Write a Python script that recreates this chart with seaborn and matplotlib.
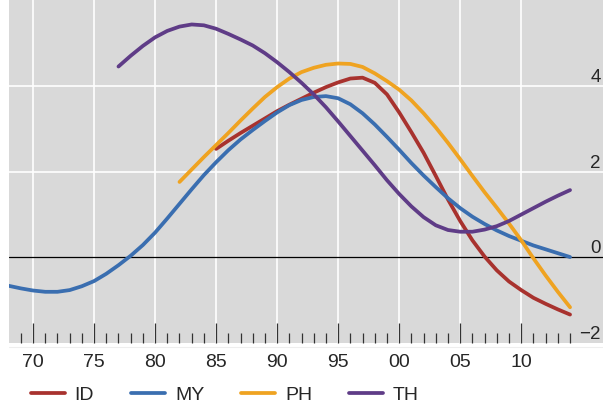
import numpy as np
import pandas as pd
import matplotlib
matplotlib.use("Agg")
import matplotlib.pyplot as plt
import seaborn as sns

# values (per cent), one per year
id_years = list(range(1985, 2015))
id_vals = [2.53, 2.72, 2.90, 3.07, 3.24, 3.41, 3.56, 3.70, 3.84, 3.97,
           4.08, 4.17, 4.19, 4.07, 3.80, 3.38, 2.92, 2.44, 1.90, 1.35,
           0.85, 0.40, 0.02, -0.30, -0.56, -0.76, -0.94, -1.08, -1.21, -1.33]

my_years = list(range(1968, 2015))
my_vals = [-0.66, -0.72, -0.77, -0.80, -0.80, -0.76, -0.67, -0.55, -0.38, -0.18,
           0.04, 0.29, 0.58, 0.91, 1.25, 1.59, 1.92, 2.22, 2.50, 2.75,
           2.97, 3.18, 3.38, 3.55, 3.67, 3.74, 3.76, 3.71, 3.57, 3.36,
           3.10, 2.81, 2.51, 2.20, 1.91, 1.64, 1.38, 1.15, 0.95, 0.78,
           0.63, 0.50, 0.39, 0.28, 0.19, 0.10, 0.01]

ph_years = list(range(1982, 2015))
ph_vals = [1.76, 2.05, 2.34, 2.62, 2.90, 3.19, 3.47, 3.74, 3.97, 4.17,
           4.32, 4.42, 4.49, 4.52, 4.51, 4.44, 4.29, 4.11, 3.91, 3.66,
           3.36, 3.03, 2.67, 2.29, 1.90, 1.52, 1.16, 0.79, 0.40, -0.02,
           -0.42, -0.80, -1.16]

th_years = list(range(1977, 2015))
th_vals = [4.45, 4.70, 4.93, 5.13, 5.28, 5.38, 5.43, 5.41, 5.33, 5.21,
           5.08, 4.94, 4.76, 4.55, 4.32, 4.07, 3.80, 3.50, 3.17, 2.83,
           2.49, 2.15, 1.80, 1.48, 1.19, 0.94, 0.75, 0.64, 0.60, 0.60,
           0.65, 0.73, 0.85, 1.00, 1.15, 1.30, 1.44, 1.57]

countries = ["ID", "MY", "PH", "TH"]
colors = {"ID": "#a8322e", "MY": "#3a6eb0", "PH": "#efa321", "TH": "#5f3c87"}

frames = []
for name, yrs, vals in [("ID", id_years, id_vals), ("MY", my_years, my_vals),
                        ("PH", ph_years, ph_vals), ("TH", th_years, th_vals)]:
    frames.append(pd.DataFrame({"year": yrs, "value": vals, "country": name}))
df = pd.concat(frames, ignore_index=True)

sns.set_style("white", {"axes.facecolor": "#d9d9d9"})
plt.rcParams["font.family"] = ["Liberation Sans", "DejaVu Sans"]

fig = plt.figure(figsize=(6.03, 4.07), dpi=100)
ax = fig.add_axes([9 / 603, 1 - 343.3 / 407, 1 - 9 / 603, 343.3 / 407])

# grid first so lines sit on top
for x in range(1970, 2015, 5):
    ax.axvline(x, color="white", lw=1.2, zorder=0.5)
for y in [2, 4]:
    ax.axhline(y, color="white", lw=1.2, zorder=0.5)
ax.axhline(0, color="black", lw=0.9, zorder=1)

sns.lineplot(data=df, x="year", y="value", hue="country", hue_order=countries,
             palette=colors, lw=2.7, errorbar=None, ax=ax, zorder=2)

ax.set_xlim(1968.03, 2016.7)
ax.set_ylim(-2, 6.0)
for s in ax.spines.values():
    s.set_visible(False)
ax.set_xlabel("")
ax.set_ylabel("")

# x ticks: majors every 5 years, minors every year, pointing up
ax.set_xticks(list(range(1970, 2015, 5)))
ax.set_xticklabels(["70", "75", "80", "85", "90", "95", "00", "05", "10"])
ax.set_xticks(list(range(1969, 2015)), minor=True)
ax.tick_params(axis="x", which="both", bottom=True, top=False)
ax.tick_params(axis="x", which="major", direction="in", length=14.5, width=0.9,
               color="#333333", labelsize=14, pad=8)
ax.tick_params(axis="x", which="minor", direction="in", length=7.2, width=0.9,
               color="#333333")

# y labels inside on the right, sitting above their lines
ax.yaxis.tick_right()
ax.set_yticks([-2, 0, 2, 4])
ax.set_yticklabels(["\u22122", "0", "2", "4"])
ax.tick_params(axis="y", length=0, labelsize=13.5, pad=-1.5)
for lab in ax.get_yticklabels():
    lab.set_ha("right")
    lab.set_va("bottom")

# faint rule under the panel
fig.add_artist(plt.Line2D([9 / 603, 1], [1 - 346.7 / 407] * 2, color="#eeeeee", lw=0.8))

ax.legend_.remove()
handles, labels = ax.get_legend_handles_labels()
fig.legend(handles, labels, loc="center left",
           bbox_to_anchor=(31 / 603, 1 - 395 / 407), ncol=4, frameon=False,
           fontsize=14, handlelength=1.75, handletextpad=0.5,
           columnspacing=1.9, borderpad=0, borderaxespad=0)

fig.savefig("out.png", dpi=100)
